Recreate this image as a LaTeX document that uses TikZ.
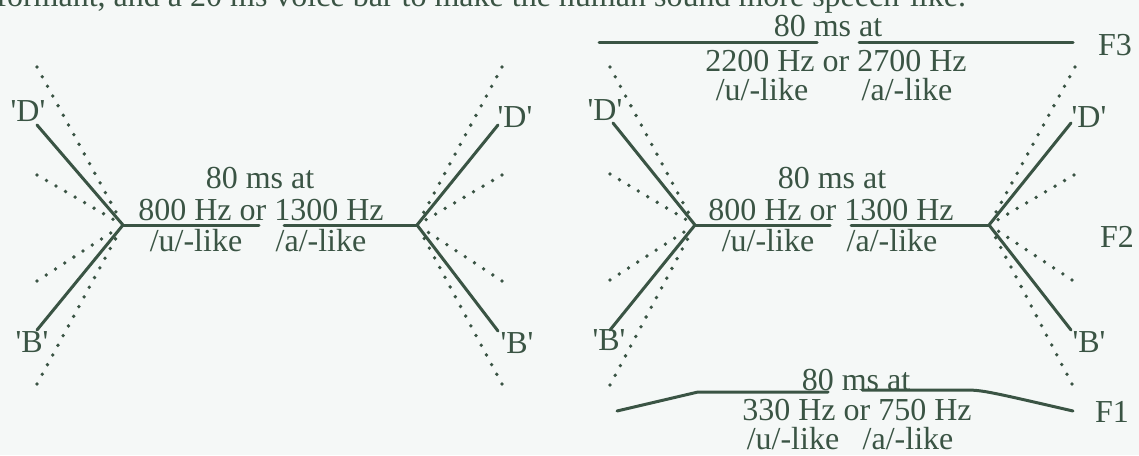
\documentclass[tikz,border=0pt]{standalone}
\usepackage{fontspec}
\setmainfont{Liberation Serif}
\definecolor{ink}{RGB}{58,84,68}
\definecolor{paper}{RGB}{245,248,247}
\newcommand{\qt}[1]{\textquotesingle#1\textquotesingle}
\begin{document}
\begin{tikzpicture}[x=0.5pt,y=-0.5pt,
  lbl/.style={font=\fontsize{16}{18}\selectfont, text=ink, inner sep=0pt, anchor=base},
  trace/.style={draw=ink, line width=1.5pt, line cap=round, line join=round},
  dotline/.style={draw=ink, line width=1.9pt, line cap=round, dash pattern=on 0pt off 5.5pt, shorten >=3pt},
]
\useasboundingbox (0,0) rectangle (1139,455);
\fill[paper] (0,0) rectangle (1139,455);
\begin{scope}
\clip (0,0) rectangle (1139,455);
\node[lbl, anchor=base west] (toptext) at (-4,6) {formant, and a 20 ms voice bar to make the human sound more speech-like.};
\end{scope}

% ---------- left diagram ----------
\coordinate (aJL) at (123,225);
\coordinate (aJR) at (417,225);
\coordinate (aDL) at (37,125);
\coordinate (aBL) at (37,330);
\coordinate (aDR) at (498,125);
\coordinate (aBR) at (498,331);
\coordinate (aHL) at (259,225);
\coordinate (aHR) at (284,225);
\coordinate (aL1) at (37,67);
\coordinate (aL2) at (37,175);
\coordinate (aL3) at (37,281);
\coordinate (aL4) at (37,384);
\coordinate (aR1) at (502,67);
\coordinate (aR2) at (502,175);
\coordinate (aR3) at (502,281);
\coordinate (aR4) at (502,384);

\draw[trace] (aDL) -- (aJL) -- (aBL);
\draw[trace] (aJL) -- (aHL);
\draw[trace] (aHR) -- (aJR);
\draw[trace] (aDR) -- (aJR) -- (aBR);
\foreach \p in {aL1,aL2,aL3,aL4} \draw[dotline] (\p) -- (aJL);
\foreach \p in {aR1,aR2,aR3,aR4} \draw[dotline] (\p) -- (aJR);

\node[lbl] (a80) at (260,188) {80 ms at};
\node[lbl] (aHz) at (261,220) {800 Hz or 1300 Hz};
\node[lbl] (aU) at (196,251) {/u/-like};
\node[lbl] (aA) at (321,251) {/a/-like};
\node[lbl] (aDLt) at (28,121) {\qt{D}};
\node[lbl] (aBLt) at (32,352) {\qt{B}};
\node[lbl] (aDRt) at (515,127) {\qt{D}};
\node[lbl] (aBRt) at (517,353) {\qt{B}};

% ---------- right diagram: F2 ----------
\coordinate (bJL) at (695,225);
\coordinate (bJR) at (989,225);
\coordinate (bDL) at (613,123);
\coordinate (bBL) at (610,330);
\coordinate (bDR) at (1071,123);
\coordinate (bBR) at (1071,330);
\coordinate (bHL) at (830,225);
\coordinate (bHR) at (851,225);
\coordinate (bL1) at (610,67);
\coordinate (bL2) at (610,174);
\coordinate (bL3) at (610,280);
\coordinate (bL4) at (610,385);
\coordinate (bR1) at (1075,67);
\coordinate (bR2) at (1074,175);
\coordinate (bR3) at (1072,280);
\coordinate (bR4) at (1072,384);

\draw[trace] (bDL) -- (bJL) -- (bBL);
\draw[trace] (bJL) -- (bHL);
\draw[trace] (bHR) -- (bJR);
\draw[trace] (bDR) -- (bJR) -- (bBR);
\foreach \p in {bL1,bL2,bL3,bL4} \draw[dotline] (\p) -- (bJL);
\foreach \p in {bR1,bR2,bR3,bR4} \draw[dotline] (\p) -- (bJR);

\node[lbl] (b80) at (832,188) {80 ms at};
\node[lbl] (bHz) at (831,220) {800 Hz or 1300 Hz};
\node[lbl] (bU) at (768,251) {/u/-like};
\node[lbl] (bA) at (892,251) {/a/-like};
\node[lbl] (bDLt) at (605,120) {\qt{D}};
\node[lbl] (bBLt) at (609,350) {\qt{B}};
\node[lbl] (bDRt) at (1089,127) {\qt{D}};
\node[lbl] (bBRt) at (1089,352) {\qt{B}};

% ---------- F3 ----------
\coordinate (c1) at (599,42);
\coordinate (c2) at (817,42);
\coordinate (c3) at (859,42);
\coordinate (c4) at (1073,42);
\draw[trace] (c1) -- (c2);
\draw[trace] (c3) -- (c4);
\node[lbl] (c80) at (828,36) {80 ms at};
\node[lbl] (cHz) at (836,71) {2200 Hz or 2700 Hz};
\node[lbl] (cU) at (762,100) {/u/-like};
\node[lbl] (cA) at (907,100) {/a/-like};

% ---------- F1 ----------
\coordinate (d1) at (617,411);
\coordinate (d2) at (698,392);
\coordinate (d3) at (828,392);
\coordinate (d4) at (862,390);
\coordinate (d5) at (962,390);
\coordinate (d6) at (1073,411);
\draw[trace] (d1) -- (d2) -- (d3);
\draw[trace] (d4) -- (d5) .. controls (982,390) .. (d6);
\node[lbl] (d80) at (856,390) {80 ms at};
\node[lbl] (dHz) at (857,420) {330 Hz or 750 Hz};
\node[lbl] (dU) at (793,449) {/u/-like};
\node[lbl] (dA) at (908,449) {/a/-like};

% ---------- formant labels ----------
\node[lbl] (F3) at (1115,55) {F3};
\node[lbl] (F2) at (1117,247) {F2};
\node[lbl] (F1) at (1112,422) {F1};
\end{tikzpicture}
\end{document}
